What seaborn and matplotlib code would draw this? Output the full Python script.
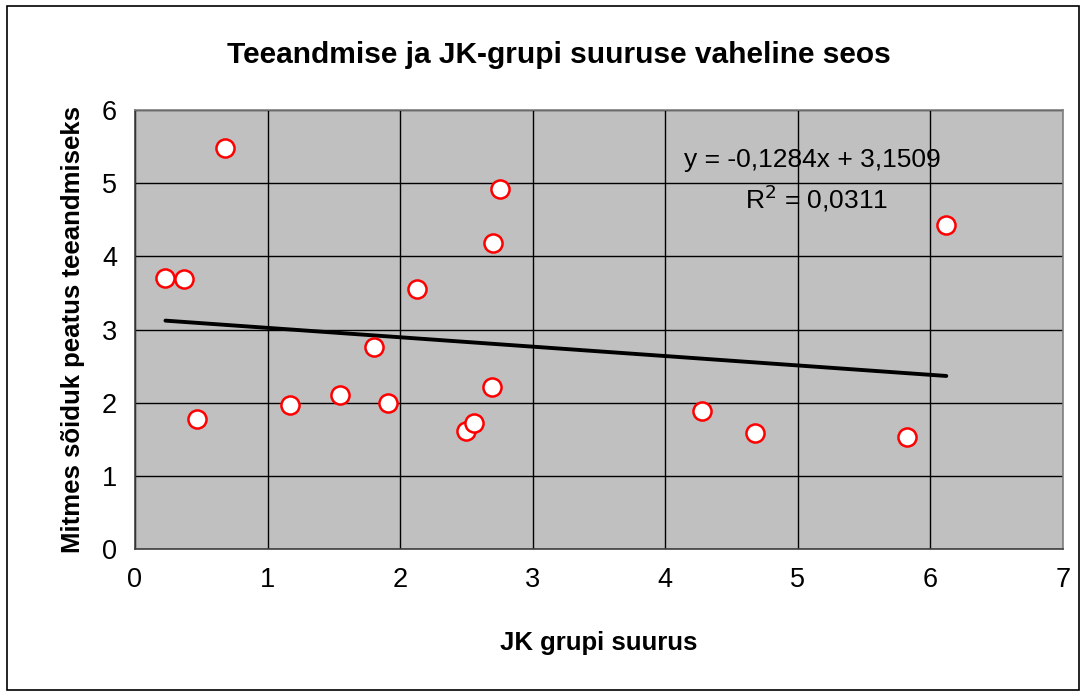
import numpy as np
import pandas as pd
import seaborn as sns
import matplotlib.pyplot as plt
from matplotlib.patches import Rectangle

# data
grupi_suurus = [0.23, 0.37, 0.47, 0.68, 1.17, 1.55, 1.80, 1.91, 2.13,
                2.50, 2.56, 2.69, 2.70, 2.75, 4.28, 4.68, 5.82, 6.12]
peatus = [3.71, 3.69, 1.78, 5.48, 1.97, 2.10, 2.76, 2.00, 3.55,
          1.61, 1.72, 2.21, 4.18, 4.92, 1.89, 1.59, 1.53, 4.43]
slope = -0.1284
intercept = 3.1509
r2_text = "0,0311"

title = "Teeandmise ja JK-grupi suuruse vaheline seos"
xlabel = "JK grupi suurus"
ylabel = "Mitmes sõiduk peatus teeandmiseks"

sns.set_theme(style="white")
plt.rcParams['font.family'] = ['Liberation Sans', 'DejaVu Sans']
plt.rcParams['text.color'] = 'black'
plt.rcParams['axes.labelcolor'] = 'black'
plt.rcParams['xtick.color'] = 'black'
plt.rcParams['ytick.color'] = 'black'

df = pd.DataFrame({"x": grupi_suurus, "y": peatus})
x_line = np.array([min(grupi_suurus), max(grupi_suurus)])
trend = pd.DataFrame({"x": x_line, "y": slope * x_line + intercept})

fig = plt.figure(figsize=(10.84, 6.94), dpi=100)
fig.patch.set_facecolor("white")
ax = fig.add_axes([0.1245, 0.2089, 0.8561, 0.6326])
ax.set_facecolor("#C0C0C0")

# grid
ax.set_xlim(0, 7)
ax.set_ylim(0, 6)
ax.set_xticks(range(0, 8))
ax.set_yticks(range(0, 7))
ax.grid(True, color="black", linewidth=1.0)
ax.set_axisbelow(True)

sns.lineplot(data=trend, x="x", y="y", color="black", linewidth=2.8, ax=ax, zorder=3)
sns.scatterplot(data=df, x="x", y="y", s=170, color="white", edgecolor="red",
                linewidth=1.8, ax=ax, zorder=4)

for s in ax.spines.values():
    s.set_color("#808080")
    s.set_linewidth(1.2)
ax.spines["left"].set_color("#404040")
ax.spines["bottom"].set_color("#404040")

ax.tick_params(axis="both", direction="out", length=6, width=1, color="black",
               labelsize=19.5, pad=7)
ax.set_xlabel(xlabel, fontsize=18.5, fontweight="bold", labelpad=27)
ax.set_ylabel(ylabel, fontsize=18.5, fontweight="bold", labelpad=12)
fig.text(0.516, 0.921, title, fontsize=21.5, fontweight="bold", ha="center", va="center")

ax.text(4.14, 5.32, "y = -0,1284x + 3,1509", fontsize=19, va="center", ha="left")
ax.text(4.60, 4.80, "R$^2$ = " + r2_text, fontsize=19, va="center", ha="left")

# border around the whole chart
fig.patches.append(Rectangle((0.006, 0.006), 0.989, 0.985, transform=fig.transFigure,
                             fill=False, edgecolor="black", linewidth=1.2))

fig.savefig("out.png", dpi=100)
